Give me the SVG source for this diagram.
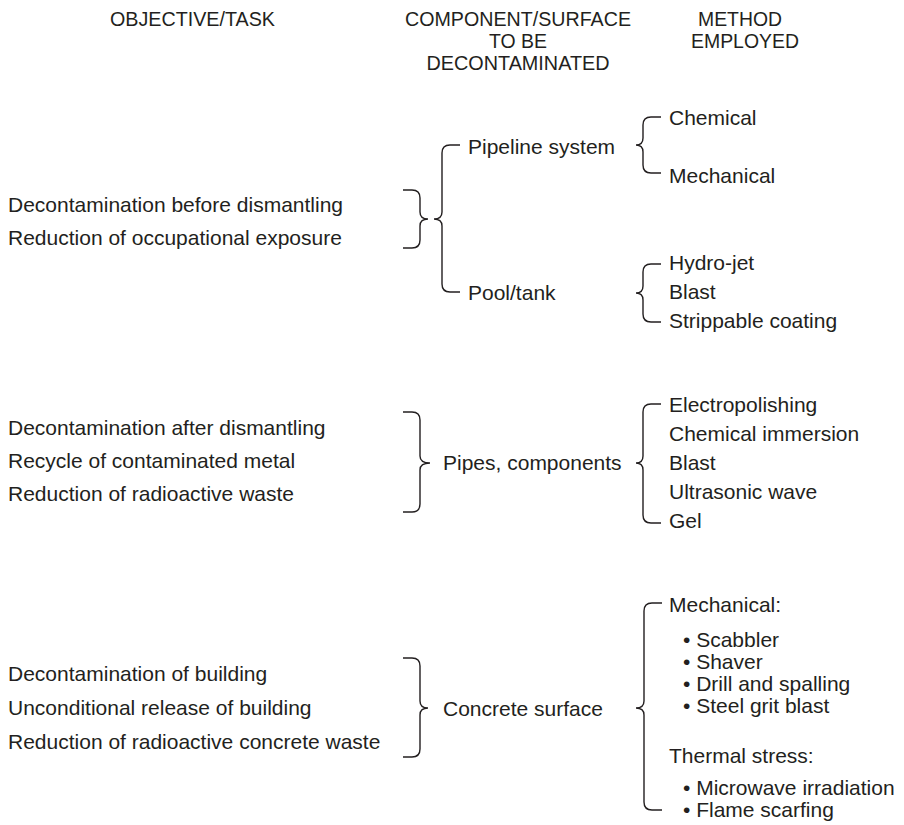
<svg xmlns="http://www.w3.org/2000/svg" width="904" height="825" viewBox="0 0 904 825">
<style>
text{font-family:"Liberation Sans",Arial,sans-serif;font-size:21px;fill:#231f20}
.h{text-anchor:middle}
.b{fill:none;stroke:#231f20;stroke-width:1.4}
</style>
<rect width="904" height="825" fill="#fff"/>
<g id="headers">
<text class="h" x="192.5" y="26" textLength="165" lengthAdjust="spacingAndGlyphs">OBJECTIVE/TASK</text>
<text class="h" x="518" y="26" textLength="226" lengthAdjust="spacingAndGlyphs">COMPONENT/SURFACE</text>
<text class="h" x="518" y="48" textLength="58" lengthAdjust="spacingAndGlyphs">TO BE</text>
<text class="h" x="518" y="70" textLength="183" lengthAdjust="spacingAndGlyphs">DECONTAMINATED</text>
<text class="h" x="740" y="26" textLength="84" lengthAdjust="spacingAndGlyphs">METHOD</text>
<text class="h" x="745" y="48" textLength="108" lengthAdjust="spacingAndGlyphs">EMPLOYED</text>
</g>
<g id="objectives1">
<text x="8" y="212">Decontamination before dismantling</text>
<text x="8" y="245">Reduction of occupational exposure</text>
</g>
<g id="objectives2">
<text x="8" y="435">Decontamination after dismantling</text>
<text x="8" y="468">Recycle of contaminated metal</text>
<text x="8" y="501">Reduction of radioactive waste</text>
</g>
<g id="objectives3">
<text x="8" y="681">Decontamination of building</text>
<text x="8" y="715">Unconditional release of building</text>
<text x="8" y="749">Reduction of radioactive concrete waste</text>
</g>
<g id="pipeline"><text x="468" y="154">Pipeline system</text></g>
<g id="pool"><text x="468" y="300">Pool/tank</text></g>
<g id="pipes"><text x="443" y="470">Pipes, components</text></g>
<g id="concrete"><text x="443" y="716">Concrete surface</text></g>
<g id="methods-pipeline">
<text x="669" y="125">Chemical</text>
<text x="669" y="183">Mechanical</text>
</g>
<g id="methods-pool">
<text x="669" y="270">Hydro-jet</text>
<text x="669" y="299">Blast</text>
<text x="669" y="328">Strippable coating</text>
</g>
<g id="methods-pipes">
<text x="669" y="412">Electropolishing</text>
<text x="669" y="441">Chemical immersion</text>
<text x="669" y="470">Blast</text>
<text x="669" y="499">Ultrasonic wave</text>
<text x="669" y="528">Gel</text>
</g>
<g id="methods-concrete">
<text x="669" y="612">Mechanical:</text>
<text x="683" y="647">• Scabbler</text>
<text x="683" y="669">• Shaver</text>
<text x="683" y="691">• Drill and spalling</text>
<text x="683" y="713">• Steel grit blast</text>
<text x="669" y="763">Thermal stress:</text>
<text x="683" y="795">• Microwave irradiation</text>
<text x="683" y="817">• Flame scarfing</text>
</g>
<g id="connectors" class="b">
<path d="M403,190 H412 Q420,190 420,198 V212 Q420,219 428,219 Q420,219 420,226 V240 Q420,248 412,248 H403"/>
<path d="M460,145 H450 Q442,145 442,153 V212 Q442,219 434,219 Q442,219 442,226 V284 Q442,292 450,292 H460"/>
<path d="M661,117 H651 Q643,117 643,125 V138 Q643,145 636,145 Q643,145 643,152 V165 Q643,173 651,173 H661"/>
<path d="M661,264 H651 Q643,264 643,272 V286 Q643,293 636,293 Q643,293 643,300 V314 Q643,322 651,322 H661"/>
<path d="M403,412 H412 Q420,412 420,420 V456 Q420,463 430,463 Q420,463 420,470 V504 Q420,512 412,512 H403"/>
<path d="M661,404 H651 Q643,404 643,412 V456 Q643,463 636,463 Q643,463 643,470 V515 Q643,523 651,523 H661"/>
<path d="M403,658 H412 Q420,658 420,666 V701 Q420,708 428,708 Q420,708 420,715 V749 Q420,757 412,757 H403"/>
<path d="M662,603 H652 Q644,603 644,611 V701 Q644,708 636,708 Q644,708 644,715 V802 Q644,810 652,810 H662"/>
</g>
</svg>
